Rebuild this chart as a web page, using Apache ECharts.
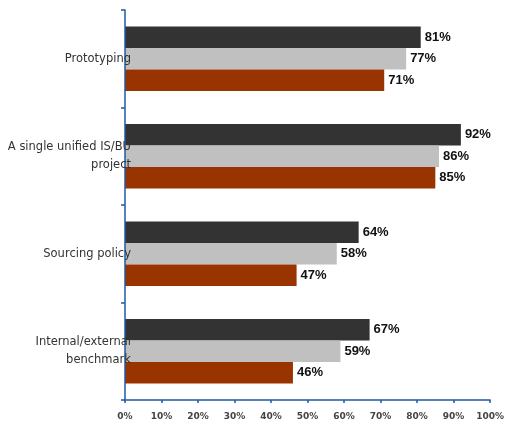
<!DOCTYPE html>
<html><head><meta charset="utf-8">
<script src="https://cdn.jsdelivr.net/npm/echarts@6/dist/echarts.min.js"></script>
<style>html,body{margin:0;padding:0;background:#fff}#c{width:507px;height:421px}</style>
</head><body><div id="c"></div>
<script>
const categories = ["Prototyping", "A single unified IS/BU\nproject", "Sourcing policy", "Internal/external\nbenchmark"];
const seriesA = [81, 92, 64, 67];
const seriesB = [77, 86, 58, 59];
const seriesC = [71, 85, 47, 46];
const xTicks = [0, 10, 20, 30, 40, 50, 60, 70, 80, 90, 100];

const axisBlue = '#1F5AA6';
const label = {show: true, position: 'right', distance: 4, formatter: '{c}%',
  color: '#111', fontFamily: 'Liberation Sans, Arial', fontWeight: 'bold', fontSize: 13};
function mk(name, data, color) {
  return {name, type: 'bar', data, barWidth: '22%', barGap: '0%', barCategoryGap: '34%',
    itemStyle: {color}, label, emphasis: {disabled: true}, z: 2};
}
const chart = echarts.init(document.getElementById('c'), null, {renderer: 'canvas'});
chart.setOption({
  animation: false,
  grid: {left: 125, top: 10, right: 12, bottom: 20, containLabel: false},
  xAxis: {type: 'value', min: xTicks[0], max: xTicks[xTicks.length - 1], interval: 10,
    axisLine: {show: true, lineStyle: {color: axisBlue, width: 1.5}},
    axisTick: {show: true, length: 3, lineStyle: {color: axisBlue, width: 1.5}},
    splitLine: {show: false},
    axisLabel: {formatter: '{value}%', color: '#444', fontSize: 9, fontWeight: 'bold',
      fontFamily: 'DejaVu Sans, Verdana', margin: 12}},
  yAxis: {type: 'category', data: categories, inverse: true, z: 5,
    axisLine: {show: true, lineStyle: {color: axisBlue, width: 1.5}},
    axisTick: {show: true, length: 4, lineStyle: {color: axisBlue, width: 1.5}},
    axisLabel: {color: '#333', fontSize: 11.5, fontFamily: 'DejaVu Sans, Verdana', margin: -6,
      lineHeight: 18, align: 'right'}},
  series: [mk('A', seriesA, '#333333'), mk('B', seriesB, '#C0C0C0'), mk('C', seriesC, '#993300')]
});
</script></body></html>
